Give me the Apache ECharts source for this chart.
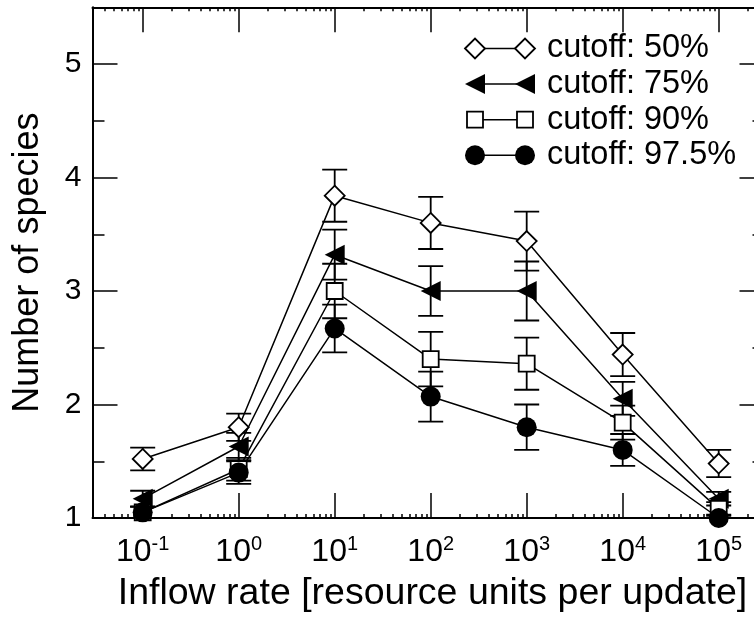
<!DOCTYPE html>
<html>
<head>
<meta charset="utf-8">
<script src="https://cdn.jsdelivr.net/npm/echarts@6/dist/echarts.min.js"></script>
<style>
  html, body { margin: 0; padding: 0; background: #fff; }
  #chart { width: 754px; height: 617px; }
</style>
</head>
<body>
<div id="chart"></div>
<script>
// Inflow rate exponents (10^n resource units per update)
const exponents = [-1, 0, 1, 2, 3, 4, 5];
const yTicks = [1, 2, 3, 4, 5];
const yMinorTicks = [1.5, 2.5, 3.5, 4.5];
const cutoffLabels = ['cutoff: 50%', 'cutoff: 75%', 'cutoff: 90%', 'cutoff: 97.5%'];

// Mean number of species and error for each cutoff
const species50 = [1.52, 1.80, 3.84, 3.60, 3.44, 2.44, 1.48];
const err50 = [0.10, 0.12, 0.23, 0.23, 0.26, 0.19, 0.12];
const species75 = [1.17, 1.63, 3.32, 3.00, 3.00, 2.05, 1.17];
const err75 = [0.07, 0.12, 0.22, 0.22, 0.26, 0.15, 0.06];
const species90 = [1.05, 1.43, 3.00, 2.40, 2.36, 1.84, 1.08];
const err90 = [0.05, 0.10, 0.24, 0.24, 0.23, 0.15, 0.06];
const species975 = [1.05, 1.40, 2.67, 2.07, 1.80, 1.60, 1.00];
const err975 = [0.05, 0.10, 0.21, 0.22, 0.20, 0.14, 0.03];

const FONT = "'Liberation Sans', Arial, Helvetica, sans-serif";
const X_MIN = Math.log10(0.03);
const X_MAX = Math.log10(3e5);
const Y_MIN = 1;
const Y_MAX = 5.5;

// log-decade minor tick positions (2..9 x 10^n)
const xMinorTicks = [];
for (let n = -2; n <= 5; n++) {
  for (let k = 2; k <= 9; k++) {
    const v = n + Math.log10(k);
    if (v > X_MIN && v < X_MAX) xMinorTicks.push(v);
  }
}

const sets = [
  { name: cutoffLabels[0], values: species50, errors: err50, symbol: 'diamond', size: 20, rotate: 0, fill: '#fff' },
  { name: cutoffLabels[1], values: species75, errors: err75, symbol: 'triangle', size: 20, rotate: 90, fill: '#000' },
  { name: cutoffLabels[2], values: species90, errors: err90, symbol: 'rect', size: 16, rotate: 0, fill: '#fff' },
  { name: cutoffLabels[3], values: species975, errors: err975, symbol: 'circle', size: 20, rotate: 0, fill: '#000' }
];

function errorBarItem(params, api) {
  const x = api.value(0), y = api.value(1), e = api.value(2);
  const hi = api.coord([x, y + e]);
  const lo = api.coord([x, y - e]);
  const half = 12.5;
  const style = { stroke: '#000', lineWidth: 1.8, fill: null };
  return {
    type: 'group',
    children: [
      { type: 'line', shape: { x1: hi[0], y1: hi[1], x2: lo[0], y2: lo[1] }, style },
      { type: 'line', shape: { x1: hi[0] - half, y1: hi[1], x2: hi[0] + half, y2: hi[1] }, style },
      { type: 'line', shape: { x1: lo[0] - half, y1: lo[1], x2: lo[0] + half, y2: lo[1] }, style }
    ]
  };
}

const series = [];
sets.forEach(s => {
  series.push({
    type: 'custom',
    name: s.name + ' error',
    renderItem: errorBarItem,
    clip: true,
    data: exponents.map((x, i) => [x, s.values[i], s.errors[i]]),
    encode: { x: 0, y: 1 },
    silent: true
  });
  series.push({
    type: 'line',
    name: s.name,
    data: exponents.map((x, i) => [x, s.values[i]]),
    symbol: s.symbol,
    symbolSize: s.size,
    symbolRotate: s.rotate,
    showAllSymbol: true,
    lineStyle: { color: '#000', width: 1.5 },
    itemStyle: { color: s.fill, borderColor: '#000', borderWidth: s.fill === '#fff' ? 1.8 : 0 },
    silent: true
  });
});

// legend: symbol - line - symbol, then the label
const legendGraphics = [];
sets.forEach((s, i) => {
  const cy = 48.5 + i * 35.6;
  const xa = 475, xb = 525;
  legendGraphics.push({
    type: 'line', shape: { x1: xa, y1: cy, x2: xb, y2: cy },
    style: { stroke: '#000', lineWidth: 1.5 }
  });
  [xa, xb].forEach(cx => {
    let el;
    if (s.symbol === 'diamond') {
      el = { type: 'polygon', shape: { points: [[cx - 10, cy], [cx, cy - 10], [cx + 10, cy], [cx, cy + 10]] },
        style: { fill: '#fff', stroke: '#000', lineWidth: 1.8 } };
    } else if (s.symbol === 'triangle') {
      el = { type: 'polygon', shape: { points: [[cx - 10, cy], [cx + 10, cy - 10], [cx + 10, cy + 10]] },
        style: { fill: '#000' } };
    } else if (s.symbol === 'rect') {
      el = { type: 'rect', shape: { x: cx - 8, y: cy - 8, width: 16, height: 16 },
        style: { fill: '#fff', stroke: '#000', lineWidth: 1.8 } };
    } else {
      el = { type: 'circle', shape: { cx: cx, cy: cy, r: 10 }, style: { fill: '#000' } };
    }
    legendGraphics.push(el);
  });
  legendGraphics.push({
    type: 'text', x: 547, y: cy,
    style: { text: s.name, font: '32.5px ' + FONT, fill: '#000', verticalAlign: 'middle', align: 'left' }
  });
});

const axisLineStyle = { color: '#000', width: 2 };
const tickStyle = { color: '#000', width: 1.5 };

const chart = echarts.init(document.getElementById('chart'), null, { renderer: 'canvas' });
chart.setOption({
  animation: false,
  backgroundColor: '#fff',
  grid: { left: 92.5, top: 7.25, width: 672, height: 510.75, outerBoundsMode: 'none', containLabel: false },
  xAxis: [
    {
      type: 'value', position: 'bottom', min: X_MIN, max: X_MAX,
      axisLine: { show: true, onZero: false, lineStyle: axisLineStyle },
      axisTick: { show: true, inside: true, length: 25, lineStyle: tickStyle, customValues: exponents },
      axisLabel: {
        show: true, customValues: exponents, margin: 16,
        formatter: v => '{b|10}{s|' + v + '}',
        rich: {
          b: { fontSize: 32, fontFamily: FONT, color: '#000', lineHeight: 36 },
          s: { fontSize: 20, fontFamily: FONT, color: '#000', verticalAlign: 'top', lineHeight: 20 }
        }
      },
      splitLine: { show: false },
      name: 'Inflow rate [resource units per update]',
      nameLocation: 'middle', nameGap: 57,
      nameTextStyle: { fontSize: 37.5, fontFamily: FONT, color: '#000', padding: [0, 0, 0, 8] }
    },
    {
      type: 'value', position: 'bottom', min: X_MIN, max: X_MAX,
      axisLine: { show: false, onZero: false },
      axisTick: { show: true, inside: true, length: 4, lineStyle: tickStyle, customValues: xMinorTicks },
      axisLabel: { show: false }, splitLine: { show: false }
    },
    {
      type: 'value', position: 'top', min: X_MIN, max: X_MAX,
      axisLine: { show: true, onZero: false, lineStyle: axisLineStyle },
      axisTick: { show: true, inside: true, length: 25, lineStyle: tickStyle, customValues: exponents },
      axisLabel: { show: false }, splitLine: { show: false }
    },
    {
      type: 'value', position: 'top', min: X_MIN, max: X_MAX,
      axisLine: { show: false, onZero: false },
      axisTick: { show: true, inside: true, length: 4, lineStyle: tickStyle, customValues: xMinorTicks },
      axisLabel: { show: false }, splitLine: { show: false }
    }
  ],
  yAxis: [
    {
      type: 'value', position: 'left', min: Y_MIN, max: Y_MAX,
      axisLine: { show: true, onZero: false, lineStyle: axisLineStyle },
      axisTick: { show: true, inside: true, length: 25, lineStyle: tickStyle, customValues: yTicks },
      axisLabel: { show: true, customValues: yTicks, margin: 11, fontSize: 30, fontFamily: FONT, color: '#000' },
      splitLine: { show: false },
      name: 'Number of species',
      nameLocation: 'middle', nameGap: 46,
      nameTextStyle: { fontSize: 36, fontFamily: FONT, color: '#000' }
    },
    {
      type: 'value', position: 'left', min: Y_MIN, max: Y_MAX,
      axisLine: { show: false, onZero: false },
      axisTick: { show: true, inside: true, length: 12, lineStyle: tickStyle, customValues: yMinorTicks },
      axisLabel: { show: false }, splitLine: { show: false }
    },
    {
      type: 'value', position: 'right', min: Y_MIN, max: Y_MAX,
      axisLine: { show: true, onZero: false, lineStyle: axisLineStyle },
      axisTick: { show: true, inside: true, length: 25, lineStyle: tickStyle, customValues: yTicks },
      axisLabel: { show: false }, splitLine: { show: false }
    },
    {
      type: 'value', position: 'right', min: Y_MIN, max: Y_MAX,
      axisLine: { show: false, onZero: false },
      axisTick: { show: true, inside: true, length: 12, lineStyle: tickStyle, customValues: yMinorTicks },
      axisLabel: { show: false }, splitLine: { show: false }
    }
  ],
  graphic: legendGraphics,
  series: series
});
</script>
</body>
</html>
